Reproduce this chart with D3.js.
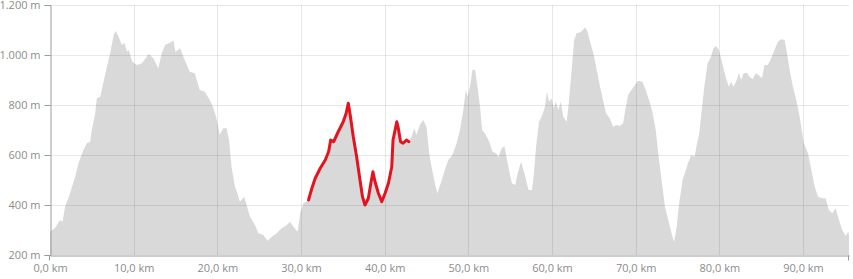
<!DOCTYPE html>
<html>
<head>
<meta charset="utf-8">
<script src="https://cdn.jsdelivr.net/npm/d3@7"></script>
<style>
  body { margin: 0; background: #fff; }
  text { font-family: "Open Sans", "Segoe UI", sans-serif; font-size: 11px; fill: #8c8c8c; }
</style>
</head>
<body>
<script>
// elevation profile
const distanceKm = [
  0, 0.6, 1.2, 1.5, 1.8, 2.4, 3.0, 3.4, 4.0, 4.4, 4.8, 5.0, 5.4, 5.6, 6.0, 6.4, 6.8, 7.2, 7.6, 7.85,
  8.2, 8.6, 8.9, 9.2, 9.4, 9.85, 10.4, 11.0, 11.55, 11.8, 12.35, 12.95, 13.35, 13.75, 14.2, 14.75, 15.0, 15.55, 16.1, 16.7,
  17.3, 17.9, 18.5, 19.1, 19.5, 19.9, 20.3, 20.7, 21.1, 21.4, 21.7, 22.1, 22.4, 22.7, 23.2, 23.5, 23.9, 24.5, 24.9, 25.5,
  26.0, 26.5, 27.1, 27.7, 28.3, 28.7, 29.1, 29.6, 29.9, 30.3, 30.9, 31.3, 31.7, 32.3, 32.9, 33.3, 33.55, 33.9, 34.45, 35.05,
  35.4, 35.65, 35.85, 36.25, 36.65, 37.05, 37.35, 37.65, 38.05, 38.35, 38.6, 38.85, 39.25, 39.65, 40.05, 40.45, 40.85, 41.0, 41.45, 41.6,
  41.9, 42.2, 42.6, 42.9, 43.2, 43.55, 43.8, 44.2, 44.6, 45.0, 45.3, 45.6, 46.0, 46.3, 46.7, 47.2, 47.6, 48.1, 48.6, 49.0,
  49.4, 49.7, 49.9, 50.2, 50.5, 50.8, 51.1, 51.4, 51.65, 52.1, 52.5, 52.9, 53.3, 53.6, 54.0, 54.3, 54.7, 55.2, 55.6, 55.9,
  56.3, 56.7, 57.2, 57.6, 57.8, 58.1, 58.45, 58.85, 59.15, 59.4, 59.65, 59.95, 60.2, 60.45, 60.75, 61.05, 61.35, 61.75, 62.0, 62.35,
  62.65, 62.95, 63.35, 63.6, 63.95, 64.25, 64.55, 64.95, 65.35, 65.7, 66.1, 66.45, 66.9, 67.3, 67.7, 68.1, 68.5, 68.8, 69.1, 69.5,
  69.9, 70.3, 70.8, 71.2, 71.6, 72.0, 72.4, 72.7, 73.1, 73.5, 74.0, 74.4, 74.6, 74.9, 75.2, 75.5, 75.6, 76.0, 76.25, 76.65,
  77.05, 77.3, 77.6, 77.95, 78.2, 78.6, 79.0, 79.3, 79.6, 79.95, 80.35, 80.8, 81.15, 81.4, 81.7, 82.0, 82.35, 82.6, 82.9, 83.3,
  83.6, 84.0, 84.35, 84.7, 85.1, 85.4, 85.8, 86.1, 86.5, 87.0, 87.4, 87.8, 88.1, 88.4, 88.8, 89.2, 89.6, 90.1, 90.6, 91.0,
  91.4, 91.8, 92.3, 92.7, 93.1, 93.5, 93.9, 94.3, 94.7, 95.1, 95.4, 95.5
];
const elevationM = [
  293, 308, 340, 333, 393, 447, 513, 567, 620, 647, 653, 700, 767, 827, 833, 893, 953, 1007, 1080, 1096,
  1073, 1040, 1049, 1013, 1020, 973, 960, 967, 993, 1004, 987, 947, 1007, 1040, 1047, 1057, 1013, 1027, 980, 933,
  927, 860, 853, 820, 790, 747, 680, 707, 707, 660, 553, 473, 447, 413, 433, 400, 353, 320, 287, 280,
  257, 273, 287, 307, 320, 333, 313, 293, 367, 407, 420, 467, 507, 547, 580, 613, 660, 653, 693, 733,
  767, 807, 767, 673, 593, 500, 433, 400, 427, 487, 533, 493, 447, 413, 447, 487, 553, 660, 733, 713,
  653, 647, 660, 653, 673, 707, 680, 720, 740, 713, 613, 553, 487, 447, 487, 540, 580, 600, 647, 700,
  780, 860, 833, 873, 940, 940, 873, 793, 700, 680, 653, 613, 607, 593, 627, 636, 567, 487, 480, 527,
  573, 527, 460, 460, 513, 633, 733, 760, 793, 853, 813, 827, 787, 813, 780, 813, 753, 733, 807, 940,
  1060, 1087, 1091, 1097, 1111, 1093, 1053, 1007, 940, 880, 820, 767, 747, 713, 720, 716, 727, 787, 840, 860,
  880, 897, 893, 860, 820, 773, 700, 607, 500, 393, 327, 273, 253, 313, 407, 473, 500, 540, 567, 600,
  593, 640, 687, 793, 873, 967, 993, 1027, 1036, 1020, 967, 907, 873, 893, 873, 893, 927, 900, 927, 929,
  913, 903, 927, 920, 907, 960, 960, 980, 1013, 1053, 1063, 1060, 1007, 940, 873, 820, 753, 647, 607, 540,
  473, 433, 427, 427, 380, 367, 387, 340, 300, 276, 293, 280
];

// highlighted stretch of the route (red)
const trackFromKm = 30.9;
const trackToKm = 42.9;

const xTicks = [0, 10, 20, 30, 40, 50, 60, 70, 80, 90];
const yTicks = [200, 400, 600, 800, 1000, 1200];
const xMaxKm = 95.5;

const width = 853;
const height = 279;
const margin = {top: 5, right: 4, bottom: 24, left: 50};

const locale = d3.formatLocale({decimal: ",", thousands: ".", grouping: [3], currency: ["", " €"]});
const fmtKm = locale.format(",.1f");
const fmtM = locale.format(",.0f");

const points = distanceKm.map((d, i) => ({km: d, m: elevationM[i]}));
const track = points.filter((d) => d.km >= trackFromKm && d.km <= trackToKm);

const x = d3.scaleLinear().domain([0, xMaxKm]).range([margin.left, width - margin.right]);
const y = d3.scaleLinear().domain([200, 1200]).range([height - margin.bottom, margin.top]);

const svg = d3.select('body')
  .append('svg')
  .attr('width', width)
  .attr('height', height);

// profile area
svg.append('path')
  .datum(points)
  .attr('fill', '#d9d9d9')
  .attr('d', d3.area().x((d) => x(d.km)).y0(y(200)).y1((d) => y(d.m)));

// grid on top, so it shows through the area
const grid = svg.append('g')
  .attr('stroke', 'rgba(0,0,0,0.09)')
  .attr('shape-rendering', 'crispEdges');

grid.selectAll('.h')
  .data(yTicks.slice(1))
  .enter().append('line')
    .attr('x1', x(0))
    .attr('x2', x(xMaxKm))
    .attr('y1', (d) => Math.round(y(d)) + 0.5)
    .attr('y2', (d) => Math.round(y(d)) + 0.5);

grid.selectAll('.v')
  .data(xTicks.slice(1))
  .enter().append('line')
    .attr('x1', (d) => Math.round(x(d)) + 0.5)
    .attr('x2', (d) => Math.round(x(d)) + 0.5)
    .attr('y1', y(1200))
    .attr('y2', y(200));

// highlighted track
svg.append('path')
  .datum(track)
  .attr('fill', 'none')
  .attr('stroke', '#e3141f')
  .attr('stroke-width', 3)
  .attr('stroke-linejoin', 'round')
  .attr('stroke-linecap', 'round')
  .attr('d', d3.line().x((d) => x(d.km)).y((d) => y(d.m)));

// axes
const yAxis = svg.append('g')
  .attr('transform', `translate(${x(0) + 0.5},0)`)
  .call(d3.axisLeft(y).tickValues(yTicks).tickFormat((d) => fmtM(d) + ' m').tickSize(6).tickPadding(4));

const xAxis = svg.append('g')
  .attr('transform', `translate(0,${y(200) + 0.5})`)
  .call(d3.axisBottom(x).tickValues(xTicks).tickFormat((d) => fmtKm(d) + ' km').tickSize(0).tickPadding(9));

// tick marks only at the ends of the x axis
xAxis.selectAll('.end-tick')
  .data([0, xMaxKm])
  .enter().append('line')
    .attr('x1', (d) => Math.round(x(d)) - 0.5)
    .attr('x2', (d) => Math.round(x(d)) - 0.5)
    .attr('y1', 0)
    .attr('y2', 5);

svg.selectAll('.domain, .tick line, .end-tick')
  .attr('stroke', '#9a9a9a');
xAxis.selectAll('line').attr('stroke', '#9a9a9a');
svg.selectAll('.tick text')
  .attr('fill', '#8c8c8c')
  .style('font-family', '"Open Sans", sans-serif')
  .style('font-size', '11px');
</script>
</body>
</html>
